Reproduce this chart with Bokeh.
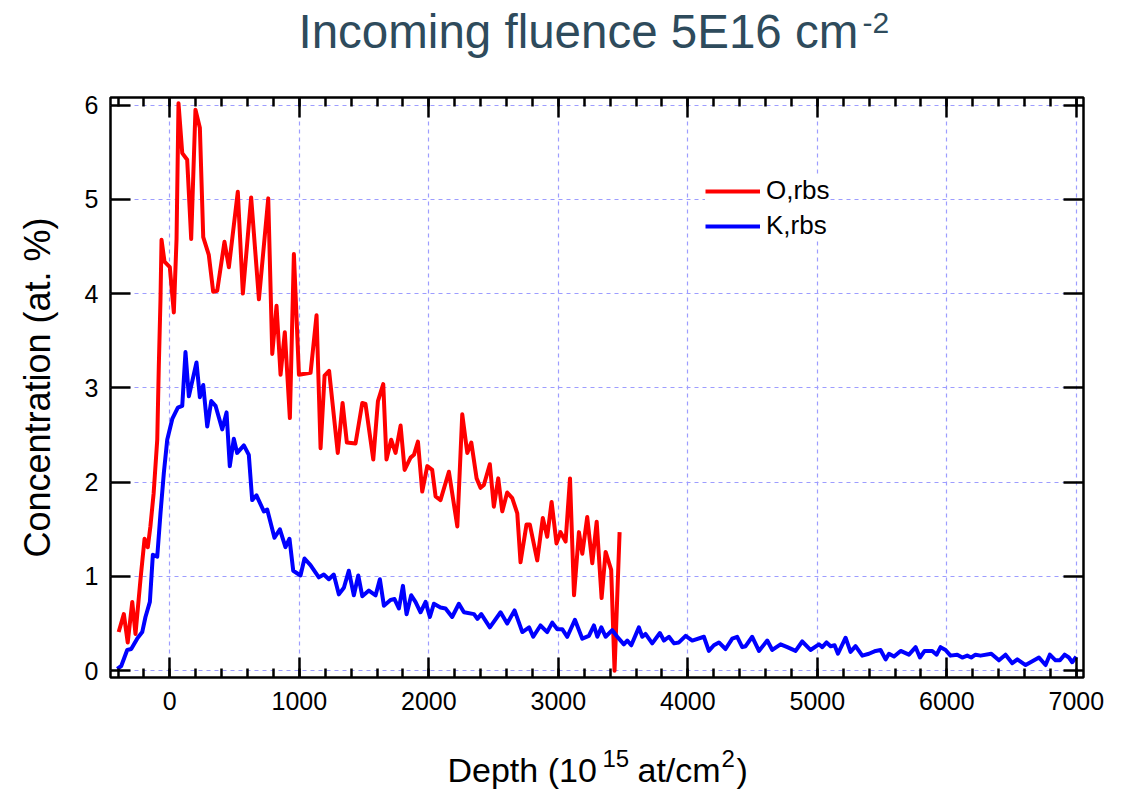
from bokeh.plotting import figure
from bokeh.layouts import column
from bokeh.models import (Range1d, FixedTicker, LinearAxis, Legend, LegendItem, Label)
from bokeh.embed import file_html
from bokeh.resources import INLINE

# O (RBS) concentration profile
o_depth = [-395, -355, -325, -290, -265, -225, -195, -170, -150, -125, -97, -85, -72, -64, -41,
           0, 31, 52, 67, 96, 134, 165, 198, 232, 258, 301, 335, 366, 422, 456, 525, 564, 628,
           688, 760, 791, 824, 855, 888, 927, 958, 997, 1087, 1133, 1164, 1195, 1230, 1297,
           1334, 1367, 1434, 1486, 1511, 1571, 1607, 1648, 1673, 1709, 1743, 1782, 1813, 1859,
           1885, 1916, 1949, 1988, 2026, 2052, 2090, 2155, 2220, 2258, 2297, 2328, 2369, 2399,
           2425, 2471, 2502, 2536, 2567, 2605, 2644, 2683, 2708, 2754, 2780, 2837, 2880, 2914,
           2948, 2986, 3017, 3056, 3090, 3121, 3159, 3185, 3223, 3262, 3296, 3334, 3365, 3408,
           3434, 3473]
o_conc = [0.41, 0.60, 0.30, 0.73, 0.39, 0.99, 1.40, 1.31, 1.53, 1.88, 2.45, 3.23, 3.94, 4.57, 4.34,
          4.28, 3.80, 4.58, 6.02, 5.49, 5.42, 4.58, 5.95, 5.76, 4.60, 4.41, 4.02, 4.03, 4.55, 4.28,
          5.08, 4.00, 5.02, 3.94, 5.01, 3.36, 3.87, 3.14, 3.59, 2.68, 4.42, 3.14, 3.16, 3.77, 2.36,
          3.13, 3.18, 2.31, 2.84, 2.42, 2.41, 2.84, 2.83, 2.24, 2.86, 3.04, 2.24, 2.45, 2.31, 2.60,
          2.13, 2.26, 2.29, 2.43, 1.90, 2.17, 2.13, 1.85, 1.81, 2.11, 1.53, 2.72, 2.31, 2.42, 2.04,
          1.94, 1.97, 2.19, 1.74, 2.04, 1.69, 1.89, 1.83, 1.67, 1.15, 1.55, 1.55, 1.17, 1.62, 1.42,
          1.79, 1.35, 1.47, 1.37, 2.04, 0.80, 1.47, 1.24, 1.63, 1.14, 1.58, 0.77, 1.26, 1.07, 0.00,
          1.47]

# K (RBS) concentration profile
k_depth = [-406, -375, -329, -298, -252, -213, -188, -154, -131, -97, -72, -46, -20, 19, 62, 96,
           121, 147, 206, 232, 258, 289, 320, 353, 405, 438, 463, 494, 520, 572, 610, 636, 669,
           726, 752, 808, 850, 893, 924, 953, 1009, 1040, 1086, 1151, 1189, 1228, 1266, 1305,
           1344, 1382, 1421, 1455, 1486, 1537, 1589, 1622, 1653, 1704, 1735, 1769, 1800, 1828,
           1864, 1897, 1936, 1975, 2008, 2039, 2090, 2129, 2180, 2232, 2271, 2349, 2375, 2405,
           2471, 2554, 2605, 2662, 2722, 2774, 2806, 2862, 2914, 2953, 2992, 3030, 3069, 3128,
           3185, 3236, 3275, 3301, 3332, 3365, 3416, 3455, 3506, 3532, 3563, 3622, 3648, 3673,
           3725, 3784, 3815, 3854, 3893, 3931, 3983, 4034, 4124, 4162, 4201, 4240, 4291, 4343,
           4381, 4420, 4446, 4497, 4549, 4613, 4652, 4716, 4768, 4832, 4883, 4947, 5012, 5038,
           5071, 5102, 5133, 5159, 5218, 5256, 5295, 5347, 5398, 5450, 5488, 5527, 5553, 5592,
           5643, 5707, 5759, 5792, 5828, 5887, 5921, 5951, 5990, 6028, 6080, 6119, 6157, 6188,
           6221, 6260, 6343, 6402, 6453, 6505, 6544, 6608, 6660, 6711, 6762, 6795, 6839, 6873,
           6909, 6942, 6968, 6999]
k_conc = [0.02, 0.05, 0.22, 0.23, 0.34, 0.41, 0.57, 0.73, 1.23, 1.21, 1.67, 2.10, 2.45, 2.67, 2.79,
          2.81, 3.38, 2.91, 3.27, 2.90, 3.03, 2.59, 2.86, 2.81, 2.56, 2.74, 2.17, 2.46, 2.31, 2.39,
          2.29, 1.81, 1.86, 1.69, 1.71, 1.41, 1.50, 1.31, 1.40, 1.06, 1.01, 1.19, 1.12, 0.99, 1.02,
          0.97, 1.02, 0.81, 0.88, 1.06, 0.80, 1.01, 0.79, 0.85, 0.80, 0.97, 0.69, 0.75, 0.76, 0.66,
          0.90, 0.60, 0.80, 0.73, 0.62, 0.73, 0.57, 0.71, 0.67, 0.66, 0.57, 0.71, 0.62, 0.60, 0.55,
          0.60, 0.46, 0.62, 0.50, 0.64, 0.41, 0.46, 0.36, 0.48, 0.41, 0.51, 0.44, 0.44, 0.36, 0.54,
          0.34, 0.37, 0.48, 0.36, 0.46, 0.36, 0.43, 0.36, 0.28, 0.32, 0.27, 0.46, 0.36, 0.39, 0.29,
          0.40, 0.32, 0.36, 0.29, 0.30, 0.37, 0.32, 0.36, 0.21, 0.27, 0.30, 0.23, 0.34, 0.36, 0.25,
          0.26, 0.36, 0.21, 0.32, 0.22, 0.28, 0.25, 0.21, 0.31, 0.22, 0.28, 0.25, 0.30, 0.26, 0.27,
          0.18, 0.35, 0.20, 0.26, 0.16, 0.18, 0.21, 0.22, 0.12, 0.18, 0.15, 0.21, 0.17, 0.25, 0.14,
          0.21, 0.21, 0.17, 0.25, 0.22, 0.16, 0.17, 0.14, 0.16, 0.14, 0.17, 0.16, 0.18, 0.11, 0.17,
          0.08, 0.12, 0.06, 0.10, 0.14, 0.06, 0.17, 0.11, 0.11, 0.17, 0.14, 0.09, 0.15]

x_major = [0, 1000, 2000, 3000, 4000, 5000, 6000, 7000]
x_minor = list(range(-400, 7001, 200))
y_major = [0, 1, 2, 3, 4, 5, 6]

Y_LABEL = "Concentration (at. %)"

W = 1133
TOP_H, MAIN_H, BOTTOM_H = 80, 645, 66   # title strip, plot, x-title strip
FRAME_LEFT = 110                         # frames of the stacked figures line up here
BASELINE_SHIFT = 0.36                    # label anchor lift, in em, for alphabetic placement

FONT = "Liberation Sans"
GRID = "#9d9dff"
TITLE_C = "#2e4b5c"


def text_strip(height):
    """A bare figure used only to carry free text."""
    f = figure(width=W, height=height, output_backend="svg", toolbar_location=None,
               x_range=Range1d(0, W), y_range=Range1d(0, height),
               x_axis_type=None, y_axis_type=None,
               min_border=0, min_border_left=0, min_border_right=0,
               min_border_top=0, min_border_bottom=0)
    f.outline_line_color = None
    f.grid.visible = False
    f.background_fill_color = "white"
    f.border_fill_color = "white"
    return f


def put(f, text, x_page, baseline_from_top, size_px, color="black"):
    y_anchor = baseline_from_top - BASELINE_SHIFT * size_px
    f.add_layout(Label(x=x_page - FRAME_LEFT, y=f.height - y_anchor,
                       x_units="screen", y_units="screen",
                       text=text, text_font=FONT, text_font_size=f"{size_px}px",
                       text_color=color, text_align="left", text_baseline="alphabetic"))


# title: Incoming fluence 5E16 cm^-2
head = text_strip(TOP_H)
put(head, "Incoming fluence 5E16 cm", 298, 48, 47.5, TITLE_C)
put(head, "-2", 862, 33, 30, TITLE_C)

# x-axis title: Depth (10^15 at/cm^2), baselines measured from the strip top
foot = text_strip(BOTTOM_H)
put(foot, "Depth (10", 447, 57, 34)
put(foot, "15", 602, 42, 24)
put(foot, "at/cm", 637, 57, 34)
put(foot, "2", 721, 42, 24)
put(foot, ")", 736, 57, 34)

p = figure(width=W, height=MAIN_H, output_backend="svg", toolbar_location=None,
           x_range=Range1d(-458, 7055), y_range=Range1d(-0.072, 6.08),
           min_border_left=FRAME_LEFT, min_border_right=50, min_border_top=17,
           min_border_bottom=48,
           background_fill_color="white", border_fill_color="white")
p.outline_line_color = "black"
p.outline_line_width = 2.5


def style_axis(ax, ticker, labels=True, minor=True):
    ax.ticker = ticker
    ax.axis_line_color = None
    ax.major_tick_in = 20
    ax.major_tick_out = 0
    ax.major_tick_line_width = 2.5
    ax.major_tick_line_color = "black"
    ax.minor_tick_in = 9 if minor else 0
    ax.minor_tick_out = 0
    ax.minor_tick_line_width = 2.5
    ax.minor_tick_line_color = "black" if minor else None
    ax.major_label_text_font = FONT
    ax.major_label_text_font_size = "25px" if labels else "1px"
    ax.major_label_text_color = "black" if labels else None
    ax.axis_label_text_font = FONT
    ax.axis_label_text_font_style = "normal"
    ax.axis_label_text_color = "black"


xt = FixedTicker(ticks=x_major, minor_ticks=x_minor)
yt = FixedTicker(ticks=y_major, minor_ticks=[])

xa = p.xaxis[0]
style_axis(xa, xt)
xa.major_label_standoff = 14

ya = p.yaxis[0]
style_axis(ya, yt, minor=False)
ya.major_label_standoff = 12
ya.axis_label = Y_LABEL
ya.axis_label_text_font_size = "36px"
ya.axis_label_standoff = 24

# top and right axes carry only inward ticks
top = LinearAxis()
style_axis(top, xt, labels=False)
p.add_layout(top, "above")
right = LinearAxis()
style_axis(right, yt, labels=False, minor=False)
p.add_layout(right, "right")

for g, t in ((p.xgrid[0], x_major), (p.ygrid[0], y_major)):
    g.ticker = FixedTicker(ticks=t)
    g.grid_line_color = GRID
    g.grid_line_width = 1.2
    g.grid_line_dash = "4 4"

r_o = p.line(o_depth, o_conc, line_color="#ff0000", line_width=4, line_join="round")
r_k = p.line(k_depth, k_conc, line_color="#0000ff", line_width=4, line_join="round")

legend = Legend(items=[LegendItem(label="O,rbs", renderers=[r_o]),
                       LegendItem(label="K,rbs", renderers=[r_k])],
                location=(595, 436), border_line_color=None,
                background_fill_color="white", background_fill_alpha=1.0,
                label_text_font=FONT, label_text_font_size="26px", label_text_color="black",
                glyph_width=55, glyph_height=30, label_height=30, spacing=4,
                padding=5, margin=0, label_standoff=6)
p.add_layout(legend)

page = column(head, p, foot, spacing=0)
open("out.html", "w").write(file_html(page, INLINE))
